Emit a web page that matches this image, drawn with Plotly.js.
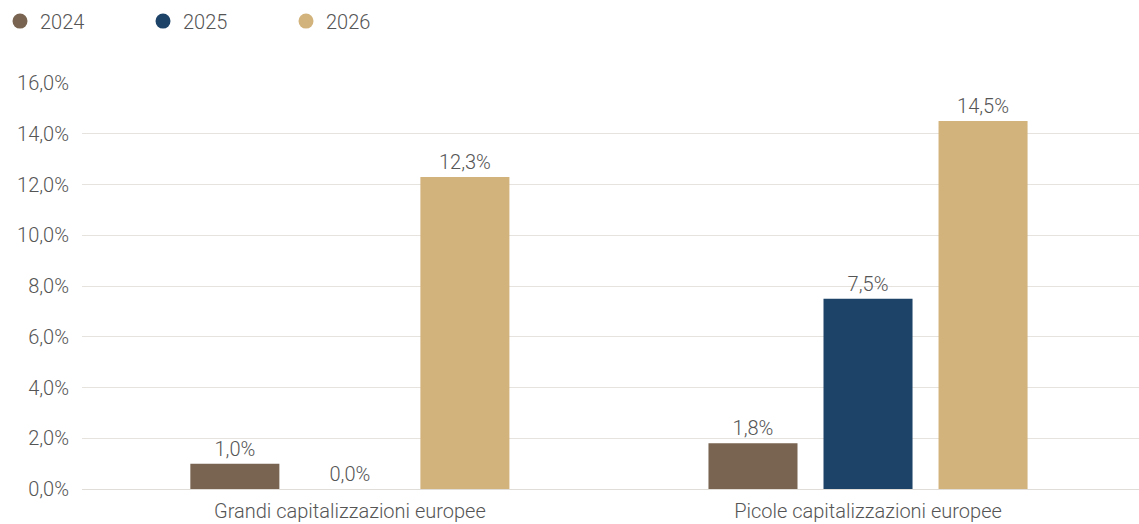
<!DOCTYPE html>
<html>
<head>
<meta charset="utf-8">
<script src="https://cdn.plot.ly/plotly-3.0.1.min.js"></script>
<style>html,body{margin:0;padding:0;background:#fff;}#chart{width:1139px;height:524px;}</style>
</head>
<body>
<div id="chart"></div>
<script>
const categories = ["Grandi capitalizzazioni europee", "Picole capitalizzazioni europee"];
const seriesNames = ["2024", "2025", "2026"];
const values2024 = [1.0, 1.8];
const values2025 = [0.0, 7.5];
const values2026 = [12.3, 14.5];
const colors = ["#786450", "#1e4369", "#d3b37c"];
const yTicks = [0, 2, 4, 6, 8, 10, 12, 14, 16];

const allValues = [values2024, values2025, values2026];
const textColor = "#555555";
const fontFamily = "Roboto, 'Noto Sans', sans-serif";
const fontSize = 20;
const fontWeight = 300;
const mkFont = () => ({family: fontFamily, color: textColor, size: fontSize, weight: fontWeight});

const traces = [];
allValues.forEach((vals, i) => {
  traces.push({
    type: "bar",
    x: categories,
    y: vals,
    name: seriesNames[i],
    marker: {color: colors[i]},
    texttemplate: "%{y:.1f}%",
    textposition: "outside",
    textfont: mkFont(),
    cliponaxis: false,
    showlegend: false,
    hoverinfo: "skip"
  });
});
allValues.forEach((vals, i) => {
  traces.push({
    type: "scatter",
    mode: "markers",
    x: [null],
    y: [null],
    name: seriesNames[i],
    marker: {color: colors[i], size: 15, symbol: "circle"},
    showlegend: true,
    hoverinfo: "skip"
  });
});

const layout = {
  width: 1139,
  height: 524,
  margin: {l: 82, r: 0, t: 83, b: 35},
  paper_bgcolor: "#ffffff",
  plot_bgcolor: "#ffffff",
  separators: ",.",
  font: mkFont(),
  barmode: "group",
  bargap: 0.334,
  bargroupgap: 0.226,
  showlegend: true,
  legend: {
    orientation: "h",
    xref: "container", yref: "container",
    x: -0.0026, y: 0.997, xanchor: "left", yanchor: "top",
    entrywidth: 98, entrywidthmode: "pixels",
    font: mkFont(),
    traceorder: "normal"
  },
  xaxis: {
    type: "category",
    range: [-0.517, 1.523],
    showgrid: false,
    zeroline: false,
    showline: false,
    ticks: "",
    tickfont: mkFont(),
    ticklabelstandoff: 8,
    fixedrange: true
  },
  yaxis: {
    range: [0, 16],
    tickmode: "array",
    tickvals: yTicks,
    ticktext: yTicks.map(v => v.toFixed(1).replace(".", ",") + "%"),
    showgrid: true,
    gridcolor: "#e6e2de",
    gridwidth: 1,
    zeroline: true,
    zerolinecolor: "#e0dcd8",
    zerolinewidth: 1,
    showline: false,
    ticks: "",
    ticklabelstandoff: 12,
    tickfont: mkFont(),
    fixedrange: true
  }
};

Plotly.newPlot("chart", traces, layout, {displayModeBar: false, staticPlot: true});
</script>
</body>
</html>
